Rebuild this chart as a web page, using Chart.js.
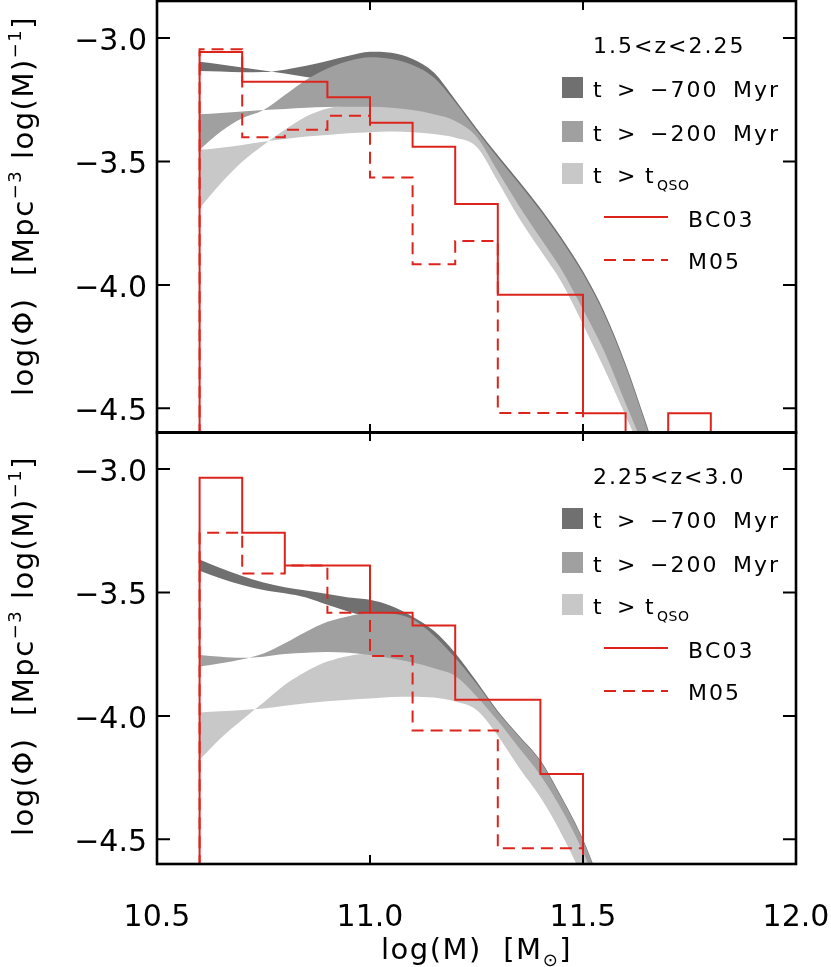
<!DOCTYPE html>
<html>
<head>
<meta charset="utf-8">
<script src="https://cdn.jsdelivr.net/npm/chart.js@4.4.1/dist/chart.umd.min.js"></script>
<style>
  html, body { margin: 0; padding: 0; background: #fff; }
  #wrap { position: relative; width: 831px; height: 967px; }
  canvas { position: absolute; left: 0; }
  #top { top: 0; }
  #bot { top: 431px; }
</style>
</head>
<body>
<div id="wrap">
  <canvas id="top" width="831" height="434"></canvas>
  <canvas id="bot" width="831" height="536"></canvas>
</div>
<script>
// log(M) positions where the edges of the model bands were read
const bandX = [10.60, 10.65, 10.70, 10.75, 10.80, 10.85, 10.90, 10.95, 11.00, 11.05, 11.10, 11.15,
               11.20, 11.25, 11.30, 11.35, 11.40, 11.45, 11.50, 11.55, 11.60, 11.65, 11.70];

// 1.5 < z < 2.25 : the two edges of each band
const hiDarkA  = [-3.134, -3.136, -3.139, -3.138, -3.128, -3.112, -3.093, -3.072, -3.056, -3.060, -3.085, -3.140,
                  -3.250, -3.365, -3.475, -3.580, -3.690, -3.810, -3.945, -4.110, -4.320, -4.570, -4.840];
const hiDarkB  = [-3.096, -3.107, -3.119, -3.132, -3.144, -3.158, -3.170, -3.180, -3.190, -3.200, -3.210, -3.230,
                  -3.270, -3.385, -3.500, -3.620, -3.740, -3.870, -4.010, -4.180, -4.390, -4.620, -4.880];
const hiMedA   = [-3.453, -3.379, -3.325, -3.292, -3.231, -3.170, -3.123, -3.093, -3.078, -3.085, -3.109, -3.160,
                  -3.260, -3.375, -3.485, -3.590, -3.700, -3.820, -3.955, -4.120, -4.330, -4.580, -4.850];
const hiMedB   = [-3.309, -3.304, -3.298, -3.292, -3.287, -3.282, -3.279, -3.278, -3.278, -3.282, -3.292, -3.309,
                  -3.336, -3.400, -3.540, -3.680, -3.810, -3.940, -4.100, -4.270, -4.480, -4.690, -4.930];
const hiLightA = [-3.690, -3.588, -3.501, -3.433, -3.372, -3.318, -3.285, -3.274, -3.274, -3.278, -3.288, -3.305,
                  -3.332, -3.395, -3.535, -3.675, -3.805, -3.935, -4.095, -4.265, -4.475, -4.685, -4.925];
const hiLightB = [-3.453, -3.444, -3.433, -3.420, -3.409, -3.399, -3.393, -3.386, -3.382, -3.379, -3.382, -3.389,
                  -3.404, -3.440, -3.580, -3.730, -3.860, -3.990, -4.160, -4.340, -4.530, -4.730, -4.970];

// 2.25 < z < 3.0
const loDarkA  = [-3.366, -3.402, -3.433, -3.460, -3.479, -3.492, -3.506, -3.520, -3.530, -3.555, -3.598, -3.655,
                  -3.745, -3.860, -3.980, -4.080, -4.180, -4.330, -4.500, -4.720, -4.950, -5.200, -5.450];
const loDarkB  = [-3.412, -3.443, -3.470, -3.490, -3.503, -3.520, -3.550, -3.578, -3.600, -3.610, -3.640, -3.690,
                  -3.770, -3.890, -4.000, -4.110, -4.210, -4.360, -4.530, -4.750, -4.980, -5.230, -5.480];
const loMedA   = [-3.800, -3.787, -3.771, -3.747, -3.706, -3.659, -3.619, -3.596, -3.582, -3.585, -3.609, -3.675,
                  -3.765, -3.870, -3.985, -4.085, -4.185, -4.335, -4.505, -4.725, -4.955, -5.205, -5.455];
const loMedB   = [-3.753, -3.760, -3.765, -3.760, -3.749, -3.744, -3.741, -3.744, -3.753, -3.767, -3.784, -3.807,
                  -3.838, -3.920, -4.020, -4.130, -4.240, -4.380, -4.550, -4.770, -5.000, -5.250, -5.500];
const loLightA = [-4.178, -4.090, -4.016, -3.946, -3.874, -3.820, -3.780, -3.757, -3.748, -3.762, -3.779, -3.802,
                  -3.833, -3.915, -4.015, -4.125, -4.235, -4.375, -4.545, -4.765, -4.995, -5.245, -5.495];
const loLightB = [-3.986, -3.981, -3.976, -3.970, -3.959, -3.949, -3.941, -3.935, -3.930, -3.924, -3.922, -3.926,
                  -3.942, -3.976, -4.080, -4.210, -4.330, -4.480, -4.660, -4.880, -5.100, -5.350, -5.600];

// histograms, bins of 0.1 dex starting at these left edges (null = empty bin)
const binLeft = [10.6, 10.7, 10.8, 10.9, 11.0, 11.1, 11.2, 11.3, 11.4, 11.5, 11.6, 11.7];
const hiBC03 = [-3.057, -3.177, -3.177, -3.240, -3.343, -3.440, -3.672, -4.040, -4.040, -4.520, null, -4.520];
const hiM05  = [-3.045, -3.402, -3.372, -3.315, -3.565, -3.916, -3.822, -4.519, -4.519];
const loBC03 = [-3.035, -3.258, -3.391, -3.391, -3.582, -3.634, -3.935, -3.935, -4.235];
const loM05  = [-3.258, -3.423, -3.391, -3.582, -3.757, -4.059, -4.059, -4.536, -4.536];

const xTicks = [10.5, 11.0, 11.5, 12.0];
const yTicks = [-3.0, -3.5, -4.0, -4.5];

const FAMILY = '"DejaVu Sans", "Liberation Sans", sans-serif';
const RED = '#dc241c';
const DARK = '#707070', MED = '#a0a0a0', LIGHT = '#c8c8c8';

Chart.defaults.font.family = FAMILY;

function bandSets(a, b, color, order) {
  const pts = arr => bandX.map((x, i) => ({ x: x, y: arr[i] }));
  const common = { borderColor: 'rgba(0,0,0,0)', borderWidth: 0, pointRadius: 0,
                   cubicInterpolationMode: 'monotone', order: order };
  return [
    Object.assign({ data: pts(a), fill: '+1', backgroundColor: color }, common),
    Object.assign({ data: pts(b), fill: false }, common)
  ];
}

function histSet(vals, dashed) {
  const floor = -9;
  const pts = [{ x: binLeft[0], y: floor }];
  vals.forEach((v, i) => pts.push({ x: binLeft[i], y: v === null ? floor : v }));
  const end = binLeft[vals.length - 1] + 0.1;
  pts.push({ x: end, y: vals[vals.length - 1] });
  pts.push({ x: end, y: floor });
  return { data: pts, stepped: true, fill: false, borderColor: RED, borderWidth: 2,
           borderDash: dashed ? [12, 7] : [], pointRadius: 0, order: 0 };
}

// text helpers: runs of normal / superscript / subscript text, with a little letter gap
function runsWidth(ctx, runs, size, gap) {
  let w = 0;
  for (const r of runs) {
    const s = r.sup || r.sub ? size * 0.62 : size;
    ctx.font = s + 'px ' + FAMILY;
    for (const ch of r.t) w += ctx.measureText(ch).width + gap;
  }
  return w;
}
function drawRuns(ctx, runs, x, y, size, gap) {
  for (const r of runs) {
    const s = r.sup || r.sub ? size * 0.62 : size;
    const dy = r.sup ? -size * 0.42 : r.sub ? size * 0.25 : 0;
    ctx.font = s + 'px ' + FAMILY;
    for (const ch of r.t) {
      ctx.fillText(ch, x, y + dy);
      x += ctx.measureText(ch).width + gap;
    }
  }
  return x;
}

const yTitle = [{ t: 'log(Φ)  [Mpc' }, { t: '−3', sup: true }, { t: ' log(M)' }, { t: '−1', sup: true }, { t: ']' }];
const xTitle = [{ t: 'log(M)  [M' }, { t: '⊙', sub: true }, { t: ']' }];

function decor(zLabel, titleCenter, withXTitle) {
  return {
    id: 'decor',
    afterDraw(chart) {
      const ctx = chart.ctx;
      const { left, right, top, bottom } = chart.chartArea;
      const sx = chart.scales.x, sy = chart.scales.y;
      ctx.save();
      // inward ticks on all four sides
      ctx.strokeStyle = '#000';
      ctx.lineWidth = 2;
      ctx.beginPath();
      xTicks.forEach(v => {
        const px = sx.getPixelForValue(v);
        ctx.moveTo(px, top); ctx.lineTo(px, top + 9);
        ctx.moveTo(px, bottom); ctx.lineTo(px, bottom - 9);
      });
      yTicks.forEach(v => {
        const py = sy.getPixelForValue(v);
        ctx.moveTo(left, py); ctx.lineTo(left + 13, py);
        ctx.moveTo(right, py); ctx.lineTo(right - 13, py);
      });
      ctx.stroke();
      ctx.lineWidth = 2.6;
      ctx.strokeRect(left, top, right - left, bottom - top);

      // legend
      ctx.fillStyle = '#000';
      ctx.textBaseline = 'alphabetic';
      ctx.textAlign = 'left';
      const R = right, T = top;
      drawRuns(ctx, [{ t: zLabel }], R - 203, T + 52, 22, 2);
      const rows = [
        { c: DARK, y: 76, tok: [[R - 203, 't'], [R - 179, '>'], [R - 146, '−700'], [R - 63, 'Myr']] },
        { c: MED, y: 120, tok: [[R - 203, 't'], [R - 179, '>'], [R - 146, '−200'], [R - 63, 'Myr']] },
        { c: LIGHT, y: 162, tok: [[R - 203, 't'], [R - 179, '>'], [R - 151, 't']] }
      ];
      rows.forEach(row => {
        ctx.fillStyle = row.c;
        ctx.fillRect(R - 234, T + row.y, 21, 21);
        ctx.fillStyle = '#000';
        row.tok.forEach(([x, s]) => drawRuns(ctx, [{ t: s }], x, T + row.y + 19.5, 22, 2));
      });
      drawRuns(ctx, [{ t: 'QSO' }], R - 139, T + 189, 14, 0.5);

      ctx.strokeStyle = RED;
      ctx.lineWidth = 2;
      ctx.beginPath(); ctx.moveTo(R - 192, T + 216); ctx.lineTo(R - 128, T + 216); ctx.stroke();
      ctx.setLineDash([12, 7]);
      ctx.beginPath(); ctx.moveTo(R - 192, T + 259); ctx.lineTo(R - 128, T + 259); ctx.stroke();
      ctx.setLineDash([]);
      drawRuns(ctx, [{ t: 'BC03' }], R - 108, T + 226, 22, 2);
      drawRuns(ctx, [{ t: 'M05' }], R - 108, T + 268, 22, 2);

      // y title, rotated
      ctx.save();
      ctx.translate(33, titleCenter);
      ctx.rotate(-Math.PI / 2);
      const w = runsWidth(ctx, yTitle, 29, 1.5);
      drawRuns(ctx, yTitle, -w / 2, 0, 29, 1.5);
      ctx.restore();

      if (withXTitle) {
        const wx = runsWidth(ctx, xTitle, 29, 1.5);
        drawRuns(ctx, xTitle, (left + right) / 2 - wx / 2, 528, 29, 1.5);
      }
      ctx.restore();
    }
  };
}

function makePanel(id, sets, zLabel, titleCenter, showX) {
  const data = { datasets: [
    histSet(sets.bc, false), histSet(sets.m05, true),
    ...bandSets(sets.med[0], sets.med[1], MED, 1),
    ...bandSets(sets.light[0], sets.light[1], LIGHT, 2),
    ...bandSets(sets.dark[0], sets.dark[1], DARK, 3)
  ] };
  return new Chart(document.getElementById(id), {
    type: 'line',
    data: data,
    options: {
      responsive: false,
      animation: false,
      devicePixelRatio: 1,
      layout: { padding: { top: 1, right: 35, bottom: showX ? 0 : 1, left: 0 } },
      plugins: { legend: { display: false }, tooltip: { enabled: false } },
      scales: {
        x: {
          type: 'linear', min: 10.5, max: 12.0, display: showX,
          grid: { display: false, drawTicks: false }, border: { display: false },
          afterBuildTicks: s => { s.ticks = xTicks.map(v => ({ value: v })); },
          afterFit: s => {
            if (!showX) return;
            s.height = 103; s.paddingLeft = 0; s.paddingRight = 0;
          },
          ticks: { autoSkip: false, maxRotation: 0, padding: 36, color: '#000',
                   font: { size: 30 }, callback: v => Number(v).toFixed(1) }
        },
        y: {
          type: 'linear', min: -4.6, max: -2.85,
          grid: { display: false, drawTicks: false }, border: { display: false },
          afterBuildTicks: s => { s.ticks = yTicks.map(v => ({ value: v })); },
          afterFit: s => { s.width = 157; s.paddingTop = 0; s.paddingBottom = 0; },
          ticks: { padding: 10, labelOffset: 4, color: '#000', font: { size: 30 },
                   callback: v => '−' + Math.abs(v).toFixed(1) }
        }
      }
    },
    plugins: [decor(zLabel, titleCenter, showX)]
  });
}

makePanel('top', {
  bc: hiBC03, m05: hiM05,
  dark: [hiDarkA, hiDarkB], med: [hiMedA, hiMedB], light: [hiLightA, hiLightB]
}, '1.5<z<2.25', 206, false);

makePanel('bot', {
  bc: loBC03, m05: loM05,
  dark: [loDarkA, loDarkB], med: [loMedA, loMedB], light: [loLightA, loLightB]
}, '2.25<z<3.0', 215, true);
</script>
</body>
</html>
